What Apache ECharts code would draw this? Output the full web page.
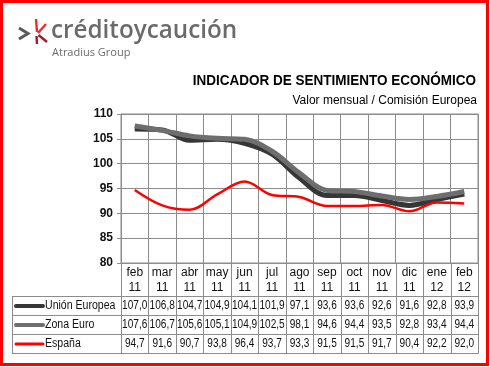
<!DOCTYPE html>
<html><head><meta charset="utf-8">
<script src="https://cdn.jsdelivr.net/npm/echarts@6/dist/echarts.min.js"></script>
<style>html,body{margin:0;padding:0;background:#fff}#c{width:490px;height:367px}</style>
</head><body><div id="c"></div>
<script>
const months = ['feb','mar','abr','may','jun','jul','ago','sep','oct','nov','dic','ene','feb'];
const years = ['11','11','11','11','11','11','11','11','11','11','11','12','12'];
const unionEuropea = [107.0,106.8,104.7,104.9,104.1,101.9,97.1,93.6,93.6,92.6,91.6,92.8,93.9];
const zonaEuro = [107.6,106.7,105.6,105.1,104.9,102.5,98.1,94.6,94.4,93.5,92.8,93.4,94.4];
const espana = [94.7,91.6,90.7,93.8,96.4,93.7,93.3,91.5,91.5,91.7,90.4,92.2,92.0];
const seriesNames = ['Unión Europea','Zona Euro','España'];
const yMin = 80, yMax = 110, yStep = 5;

const categories = months.map((m,i)=>m+'\n'+years[i]);
const FONT = '"Liberation Sans",sans-serif';
const GL = 121, GR = 478, GT = 114, GB = 263;
const CW = (GR-GL)/months.length;
const rows = [296.5, 315.5, 334.5, 353.5];
const colors = ['#363636','#6e6e6e','#ff0000'];
const widths = [5,5,2.5];
const fmt = v => v.toFixed(1).replace('.',',');
const GRID_C = '#8c8c8c';

const chart = echarts.init(document.getElementById('c'));
const graphics = [];
function txt(t,x,y,font,align,sx,fill){
  return {type:'text',x:x,y:y,scaleX:sx||1,z:10,style:{text:t,x:0,y:0,fill:fill||'#111',font:font,
    textAlign:align||'left',align:align||'left',textVerticalAlign:'middle',verticalAlign:'middle'}};
}
function ln(x1,y1,x2,y2){
  return {type:'line',z:5,shape:{x1:x1,y1:y1,x2:x2,y2:y2},style:{stroke:GRID_C,lineWidth:1}};
}
// red frame
graphics.push({type:'rect',shape:{x:1.5,y:1.5,width:486,height:363},style:{fill:'none',stroke:'#ff0000',lineWidth:3},silent:true});
// logo
graphics.push({type:'polyline',shape:{points:[[19,28],[28,33.5],[19,39]]},style:{stroke:'#5a5a5a',lineWidth:3,fill:'none'}});
graphics.push({type:'line',shape:{x1:36,y1:19,x2:37,y2:32},style:{stroke:'#ee2a30',lineWidth:2.4}});
graphics.push({type:'line',shape:{x1:46,y1:24,x2:38,y2:33},style:{stroke:'#ee2a30',lineWidth:2.4}});
graphics.push({type:'line',shape:{x1:38.5,y1:35,x2:47,y2:42},style:{stroke:'#9c1b2c',lineWidth:2.4}});
graphics.push({type:'line',shape:{x1:36.5,y1:36,x2:37,y2:44},style:{stroke:'#9c1b2c',lineWidth:2.4}});
graphics.push(txt('créditoycaución',51,31,'600 25px "Open Sans",sans-serif','left',0.97,'#6b6b6b'));
graphics.push(txt('Atradius Group',52,53,'11px "Open Sans",sans-serif','left',1,'#6b6b6b'));
// titles
graphics.push(txt('INDICADOR DE SENTIMIENTO ECONÓMICO',476,81,'bold 15px '+FONT,'right',0.9,'#000'));
graphics.push(txt('Valor mensual / Comisión Europea',477,101,'12.5px '+FONT,'right',0.96,'#000'));
// table lines
rows.forEach(y=>graphics.push(ln(12,y,GR,y)));
graphics.push(ln(12.5,rows[0],12.5,rows[3]));
for(let i=0;i<=months.length;i++){
  const x = Math.round(GL+i*CW)+0.5;
  graphics.push(ln(x,GB,x,rows[3]));
}
const data = [unionEuropea, zonaEuro, espana];
data.forEach((arr,r)=>{
  const yc = (rows[r]+rows[r+1])/2;
  graphics.push({type:'line',z:6,shape:{x1:16,y1:yc,x2:43,y2:yc},style:{stroke:colors[r],lineWidth:r<2?4:3,lineCap:'round'}});
  graphics.push(txt(seriesNames[r],45,yc,'12px '+FONT,'left',0.88));
  arr.forEach((v,i)=>{
    graphics.push(txt(fmt(v),GL+(i+0.5)*CW,yc,'12px '+FONT,'center',0.84));
  });
});

chart.setOption({
  animation:false,
  textStyle:{fontFamily:FONT},
  grid:{left:GL,right:490-GR,top:GT,bottom:367-GB,show:true,borderColor:GRID_C,borderWidth:1},
  xAxis:{type:'category',data:categories,boundaryGap:true,
    axisLine:{lineStyle:{color:GRID_C}},
    axisTick:{show:false},
    axisLabel:{color:'#111',fontSize:12,lineHeight:15,margin:2,interval:0,fontFamily:FONT},
    splitLine:{show:true,lineStyle:{color:GRID_C}}},
  yAxis:{type:'value',min:yMin,max:yMax,interval:yStep,
    axisLine:{show:true,lineStyle:{color:GRID_C}},
    axisTick:{show:true,length:4,lineStyle:{color:GRID_C}},
    axisLabel:{color:'#111',fontSize:12,fontWeight:'bold',margin:8,fontFamily:FONT},
    splitLine:{lineStyle:{color:GRID_C}}},
  series:[
    {name:seriesNames[0],type:'line',data:unionEuropea,smooth:0.35,symbol:'none',lineStyle:{color:colors[0],width:widths[0]}},
    {name:seriesNames[1],type:'line',data:zonaEuro,smooth:0.35,symbol:'none',lineStyle:{color:colors[1],width:widths[1]}},
    {name:seriesNames[2],type:'line',data:espana,smooth:0.35,symbol:'none',lineStyle:{color:colors[2],width:widths[2]}}
  ],
  graphic:graphics
});
</script></body></html>
